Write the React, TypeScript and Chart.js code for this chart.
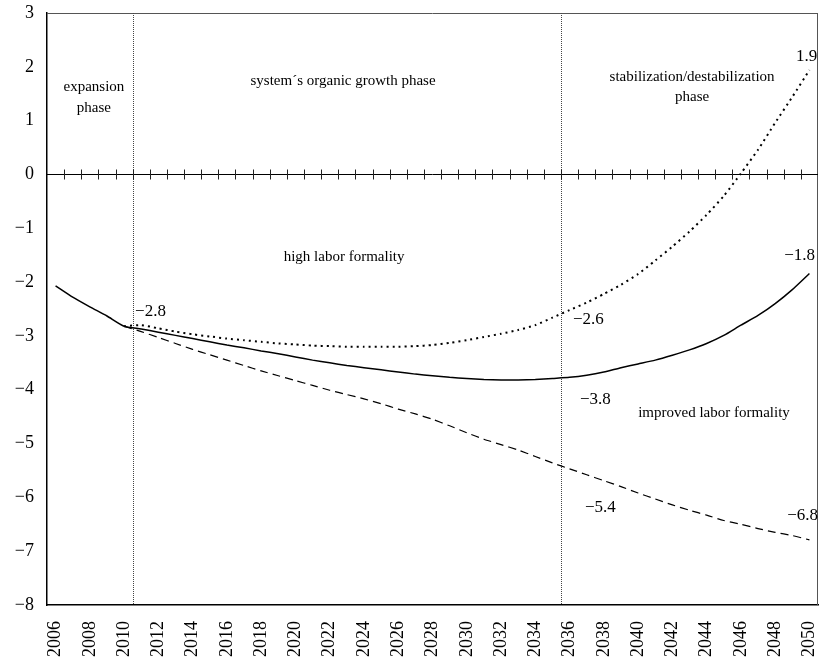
import React, { useEffect, useRef } from "react";
import { Chart, registerables } from "chart.js";

Chart.register(...registerables);

const years = [
  "2006", "2007", "2008", "2009", "2010", "2011", "2012", "2013", "2014", "2015",
  "2016", "2017", "2018", "2019", "2020", "2021", "2022", "2023", "2024", "2025",
  "2026", "2027", "2028", "2029", "2030", "2031", "2032", "2033", "2034", "2035",
  "2036", "2037", "2038", "2039", "2040", "2041", "2042", "2043", "2044", "2045",
  "2046", "2047", "2048", "2049", "2050",
];

// base scenario (solid)
const baseSeries = [
  -2.07, -2.28, -2.46, -2.63, -2.82, -2.87, -2.93, -2.99, -3.05, -3.11,
  -3.17, -3.22, -3.28, -3.33, -3.39, -3.45, -3.50, -3.55, -3.59, -3.63,
  -3.67, -3.71, -3.74, -3.77, -3.79, -3.81, -3.82, -3.82, -3.81, -3.79,
  -3.77, -3.73, -3.67, -3.59, -3.52, -3.45, -3.36, -3.26, -3.14, -2.99,
  -2.80, -2.62, -2.40, -2.14, -1.84,
];

// high labor formality (dotted)
const highFormality = [
  null, null, null, null, -2.82, -2.80, -2.86, -2.92, -2.97, -3.01,
  -3.05, -3.08, -3.11, -3.14, -3.16, -3.18, -3.19, -3.20, -3.20, -3.20,
  -3.20, -3.19, -3.17, -3.13, -3.08, -3.02, -2.96, -2.89, -2.80, -2.66,
  -2.52, -2.38, -2.22, -2.05, -1.85, -1.60, -1.34, -1.06, -0.75, -0.40,
  0.02, 0.46, 0.96, 1.44, 1.94,
];

// improved labor formality (dashed)
const improvedFormality = [
  null, null, null, null, -2.82, -2.92, -3.03, -3.14, -3.25, -3.35,
  -3.45, -3.55, -3.65, -3.74, -3.83, -3.92, -4.01, -4.09, -4.17, -4.26,
  -4.36, -4.45, -4.55, -4.67, -4.80, -4.92, -5.02, -5.12, -5.24, -5.36,
  -5.47, -5.58, -5.69, -5.80, -5.92, -6.03, -6.14, -6.24, -6.33, -6.43,
  -6.50, -6.58, -6.65, -6.71, -6.79,
];

const yMin = -8;
const yMax = 3;

// category boundaries where phases change (between 2010/2011 and 2035/2036)
const phaseBoundaries = [4.5, 29.5];

const annotations = [
  { text: "expansion", x: 2.24, y: 1.63, align: "center", size: 15 },
  { text: "phase", x: 2.24, y: 1.24, align: "center", size: 15 },
  { text: "system´s organic growth phase", x: 16.78, y: 1.74, align: "center", size: 15 },
  { text: "stabilization/destabilization", x: 37.15, y: 1.81, align: "center", size: 15 },
  { text: "phase", x: 37.15, y: 1.44, align: "center", size: 15 },
  { text: "high labor formality", x: 16.84, y: -1.53, align: "center", size: 15 },
  { text: "improved labor formality", x: 38.43, y: -4.43, align: "center", size: 15 },
  { text: "−2.8", x: 4.64, y: -2.54, align: "left", size: 17 },
  { text: "−2.6", x: 30.2, y: -2.7, align: "left", size: 17 },
  { text: "−1.8", x: 44.33, y: -1.5, align: "right", size: 17 },
  { text: "−3.8", x: 30.61, y: -4.19, align: "left", size: 17 },
  { text: "−5.4", x: 30.9, y: -6.18, align: "left", size: 17 },
  { text: "−6.8", x: 44.5, y: -6.33, align: "right", size: 17 },
  { text: "1.9", x: 44.45, y: 2.2, align: "right", size: 17 },
];

const FONT = "'Liberation Serif', 'Times New Roman', serif";

const overlayPlugin = {
  id: "overlay",
  beforeDatasetsDraw(chart: any) {
    const { ctx, chartArea } = chart;
    const xs = chart.scales.x;
    const ys = chart.scales.y;
    ctx.save();
    // top / right frame
    ctx.strokeStyle = "#555";
    ctx.lineWidth = 1;
    ctx.beginPath();
    ctx.moveTo(chartArea.left, chartArea.top + 0.5);
    ctx.lineTo(chartArea.right, chartArea.top + 0.5);
    ctx.moveTo(chartArea.right - 0.5, chartArea.top);
    ctx.lineTo(chartArea.right - 0.5, chartArea.bottom);
    ctx.stroke();

    // phase boundaries
    ctx.strokeStyle = "#444";
    ctx.setLineDash([1, 1]);
    ctx.beginPath();
    phaseBoundaries.forEach((b) => {
      const px = Math.round(xs.getPixelForValue(b)) + 0.5;
      ctx.moveTo(px, chartArea.top);
      ctx.lineTo(px, chartArea.bottom);
    });
    ctx.stroke();
    ctx.setLineDash([]);

    // zero line with crosses
    const y0 = Math.round(ys.getPixelForValue(0)) + 0.5;
    ctx.strokeStyle = "#000";
    ctx.beginPath();
    ctx.moveTo(chartArea.left, y0);
    ctx.lineTo(chartArea.right, y0);
    ctx.stroke();
    ctx.strokeStyle = "#222";
    ctx.beginPath();
    for (let k = 1; k < years.length; k++) {
      const px = Math.round(xs.getPixelForValue(k - 0.5)) + 0.5;
      ctx.moveTo(px, y0 - 5);
      ctx.lineTo(px, y0 + 5);
    }
    ctx.stroke();
    ctx.restore();
  },
  afterDatasetsDraw(chart: any) {
    const { ctx } = chart;
    const xs = chart.scales.x;
    const ys = chart.scales.y;
    ctx.save();
    ctx.fillStyle = "#000";
    ctx.textBaseline = "middle";
    annotations.forEach((a) => {
      ctx.font = `${a.size}px ${FONT}`;
      ctx.textAlign = a.align;
      ctx.fillText(a.text, xs.getPixelForValue(a.x), ys.getPixelForValue(a.y));
    });
    ctx.restore();
  },
};

export default function App() {
  const ref = useRef<HTMLCanvasElement | null>(null);

  useEffect(() => {
    if (!ref.current) return;
    const chart = new Chart(ref.current, {
      type: "line",
      data: {
        labels: years,
        datasets: [
          {
            label: "base",
            data: baseSeries,
            borderColor: "#000",
            borderWidth: 1.5,
            pointRadius: 0,
            fill: false,
            tension: 0.2,
          },
          {
            label: "high labor formality",
            data: highFormality,
            borderColor: "#000",
            borderWidth: 2,
            borderDash: [2, 4],
            pointRadius: 0,
            fill: false,
            tension: 0.2,
          },
          {
            label: "improved labor formality",
            data: improvedFormality,
            borderColor: "#000",
            borderWidth: 1.2,
            borderDash: [8, 5],
            pointRadius: 0,
            fill: false,
            tension: 0.2,
          },
        ],
      },
      options: {
        responsive: false,
        animation: false,
        events: [],
        layout: { padding: { top: 13, right: 4, left: 0, bottom: 0 } },
        plugins: {
          legend: { display: false },
          tooltip: { enabled: false },
          title: { display: false },
        },
        scales: {
          x: {
            type: "category",
            offset: true,
            grid: { display: false, offset: true, drawTicks: false },
            border: { display: true, color: "#000", width: 1.5 },
            ticks: {
              autoSkip: false,
              minRotation: 90,
              maxRotation: 90,
              padding: 16,
              color: "#000",
              font: { family: FONT, size: 18 },
              callback: (_v: any, i: number) => (i % 2 === 0 ? years[i] : ""),
            },
            afterFit: (s: any) => {
              s.height = 54;
              s.paddingLeft = 0;
              s.paddingRight = 0;
              s.paddingTop = 0;
              s.paddingBottom = 0;
            },
          },
          y: {
            type: "linear",
            min: yMin,
            max: yMax,
            grid: { display: false, drawTicks: false },
            border: { display: true, color: "#000", width: 1.5 },
            ticks: {
              stepSize: 1,
              padding: 13,
              color: "#000",
              font: { family: FONT, size: 18 },
              callback: (v: any) => (v < 0 ? "−" + Math.abs(v) : String(v)),
            },
            afterFit: (s: any) => {
              s.width = 47;
              s.paddingLeft = 0;
              s.paddingRight = 0;
              s.paddingTop = 0;
              s.paddingBottom = 0;
            },
          },
        },
      },
      plugins: [overlayPlugin],
    });
    return () => chart.destroy();
  }, []);

  return (
    <div style={{ position: "fixed", left: 0, top: 0, width: 822, height: 659, background: "#fff" }}>
      <canvas ref={ref} width={822} height={659} style={{ display: "block" }} />
    </div>
  );
}
